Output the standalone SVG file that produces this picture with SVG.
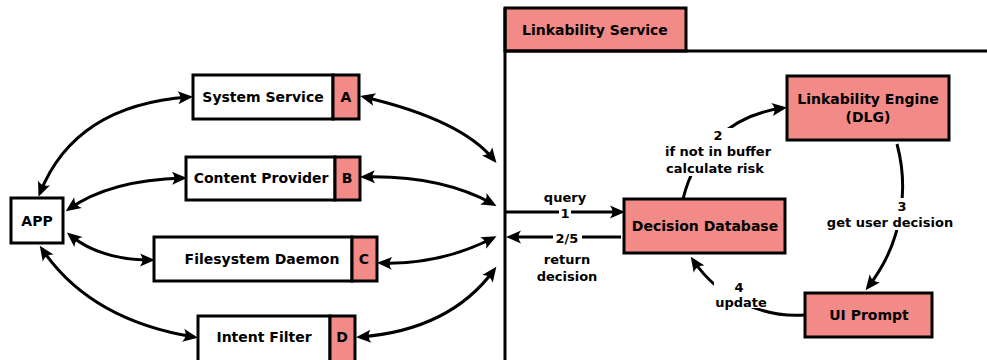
<svg xmlns="http://www.w3.org/2000/svg" width="987" height="360" viewBox="0 0 987 360">
  <style>
    text { font-family: "DejaVu Sans", "Liberation Sans", sans-serif; font-weight: bold; fill: #000; text-anchor: middle; dominant-baseline: central; }
    .t14 { font-size: 14px; }
    .t13 { font-size: 13px; }
    .box { fill: #fff; stroke: #000; stroke-width: 3; }
    .pink { fill: #f28a87; stroke: #000; stroke-width: 3; }
    .line { fill: none; stroke: #000; stroke-width: 3; }
    .two { marker-start: url(#ah); marker-end: url(#ah); }
    .one { marker-end: url(#ah); }
    .lbg { fill: #fff; stroke: none; }
  </style>
  <defs>
    <marker id="ah" markerUnits="userSpaceOnUse" viewBox="-13 -8 18 16" refX="0" refY="0" markerWidth="18" markerHeight="16" orient="auto-start-reverse">
      <path d="M4,0 L-11,-6.5 Q-6,0 -11,6.5 Z" fill="#000"/>
    </marker>
  </defs>

  <rect width="987" height="360" fill="#fff"/>

  <!-- service frame -->
  <g id="linkability-service">
    <rect class="pink" x="505" y="8" width="181" height="43"/>
    <text class="t14" x="595" y="30">Linkability Service</text>
    <path class="line" d="M505,8 V360 M505,51 H987"/>
  </g>

  <!-- connectors -->
  <g id="connectors">
    <path class="line two" d="M40,193 Q75,105 189,97"/>
    <path class="line two" d="M69,209 Q110,180 183,178"/>
    <path class="line two" d="M70,235 Q100,260 151,260"/>
    <path class="line two" d="M42,249 Q90,320 194,337"/>

    <path class="line two" d="M364,97 Q462,120 494,160"/>
    <path class="line two" d="M364,177 Q440,175 493,204"/>
    <path class="line two" d="M381,263 Q440,265 493,238"/>
    <path class="line two" d="M360,337 Q450,330 494,270"/>

    <path class="line one" d="M505,212 H621"/>
    <path class="line one" d="M621,237 H510"/>
    <path class="line one" d="M683,199 C695,150 730,115 783,108"/>
    <path class="line one" d="M897,144 C908,185 905,240 868,287"/>
    <path class="line one" d="M805,315 C765,318 720,300 693,260"/>

    <!-- label backgrounds -->
    <rect class="lbg" x="559" y="205" width="12" height="15"/>
    <rect class="lbg" x="553" y="230" width="29" height="15"/>
    <rect class="lbg" x="662" y="128" width="113" height="48"/>
    <rect class="lbg" x="823" y="198" width="134" height="32"/>
    <rect class="lbg" x="714" y="279" width="54" height="29"/>

    <text class="t13" x="565" y="197">query</text>
    <text class="t13" x="565" y="213">1</text>
    <text class="t13" x="567" y="238">2/5</text>
    <text class="t13" x="567" y="259">return</text>
    <text class="t13" x="567" y="276">decision</text>
    <text class="t13" x="718" y="135">2</text>
    <text class="t13" x="718" y="151">if not in buffer</text>
    <text class="t13" x="715" y="168">calculate risk</text>
    <text class="t13" x="902" y="206">3</text>
    <text class="t13" x="890" y="222">get user decision</text>
    <text class="t13" x="739" y="287">4</text>
    <text class="t13" x="741" y="302">update</text>
  </g>

  <g id="app">
    <rect class="box" x="11" y="198" width="52" height="45"/>
    <text class="t14" x="37" y="221">APP</text>
  </g>

  <g id="system-service">
    <rect class="box" x="193" y="75" width="140" height="44"/>
    <rect class="pink" x="333" y="75" width="26" height="44"/>
    <text class="t14" x="263" y="97">System Service</text>
    <text class="t14" x="346" y="97">A</text>
  </g>

  <g id="content-provider">
    <rect class="box" x="186" y="157" width="149" height="43"/>
    <rect class="pink" x="335" y="157" width="25" height="43"/>
    <text class="t14" x="261" y="178">Content Provider</text>
    <text class="t14" x="347" y="178">B</text>
  </g>

  <g id="filesystem-daemon">
    <rect class="box" x="154" y="237" width="198" height="44"/>
    <rect class="pink" x="352" y="237" width="25" height="44"/>
    <text class="t14" x="262" y="259">Filesystem Daemon</text>
    <text class="t14" x="364" y="259">C</text>
  </g>

  <g id="intent-filter">
    <rect class="box" x="198" y="316" width="132" height="46"/>
    <rect class="pink" x="330" y="316" width="25" height="46"/>
    <text class="t14" x="264" y="337">Intent Filter</text>
    <text class="t14" x="342" y="337">D</text>
  </g>

  <g id="linkability-engine">
    <rect class="pink" x="787" y="76" width="162" height="64"/>
    <text class="t14" x="868" y="99">Linkability Engine</text>
    <text class="t14" x="868" y="117">(DLG)</text>
  </g>

  <g id="decision-database">
    <rect class="pink" x="624" y="199" width="161" height="54"/>
    <text class="t14" x="705" y="226">Decision Database</text>
  </g>

  <g id="ui-prompt">
    <rect class="pink" x="805" y="293" width="127" height="44"/>
    <text class="t14" x="869" y="315">UI Prompt</text>
  </g>
</svg>
